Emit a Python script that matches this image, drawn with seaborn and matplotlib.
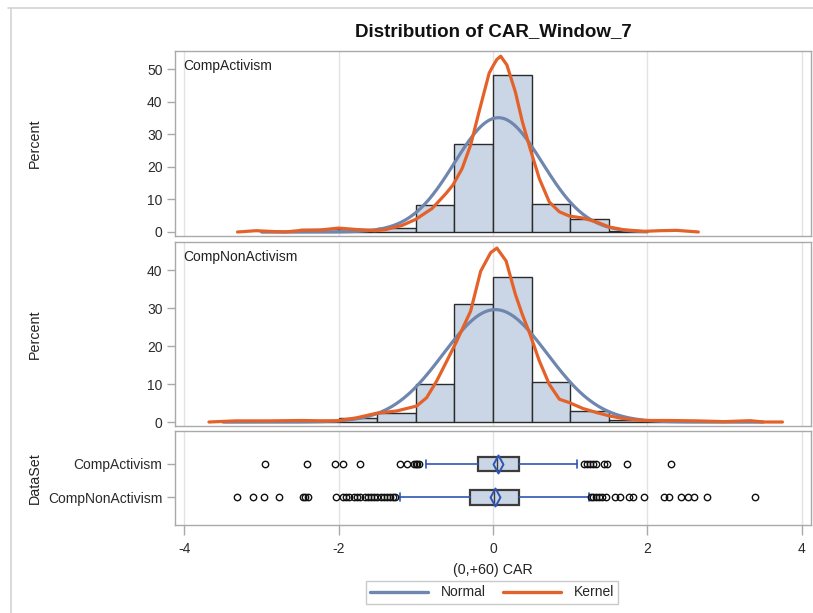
import numpy as np
import pandas as pd
import matplotlib
matplotlib.use("Agg")
import matplotlib.pyplot as plt
from matplotlib.lines import Line2D
from matplotlib.path import Path
import seaborn as sns

# ---------------- data ----------------
GROUPS = ["CompActivism", "CompNonActivism"]

# histogram bins (edges) and bar heights in percent
ACT_EDGES = [-3.0, -2.5, -2.0, -1.5, -1.0, -0.5, 0.0, 0.5, 1.0, 1.5, 2.0]
ACT_PCT = [0.2, 1.0, 0.8, 1.2, 8.2, 27.0, 48.3, 8.5, 4.0, 0.3]

NON_EDGES = [-3.5, -3.0, -2.5, -2.0, -1.5, -1.0, -0.5, 0.0, 0.5, 1.0, 1.5, 2.0, 2.5, 3.0, 3.5]
NON_PCT = [0.1, 0.2, 0.4, 1.1, 2.5, 10.0, 31.0, 38.1, 10.6, 2.9, 0.6, 0.2, 0.2, 0.1]

# fitted normal parameters (mean, std)
ACT_NORMAL = (0.07, 0.568)
NON_NORMAL = (0.03, 0.674)

# kernel density curves (percent scale)
ACT_KDE_X = [-3.31, -3.07, -2.90, -2.70, -2.48, -2.25, -2.00, -1.79, -1.53, -1.40, -1.18,
             -1.00, -0.79, -0.61, -0.52, -0.40, -0.29, -0.18, -0.05, 0.00, 0.05, 0.10,
             0.18, 0.29, 0.38, 0.48, 0.60, 0.73, 0.86, 0.99, 1.16, 1.34, 1.51, 1.69,
             1.95, 2.16, 2.38, 2.55, 2.66]
ACT_KDE_Y = [0.0, 0.4, 0.2, 0.0, 0.5, 0.6, 1.2, 0.8, 0.4, 0.7, 2.0,
             3.9, 7.2, 11.8, 14.4, 19.5, 26.7, 37.0, 48.8, 51.0, 53.0, 54.0,
             51.3, 43.0, 33.9, 25.7, 16.4, 9.2, 6.2, 4.9, 4.3, 3.1, 1.5, 0.7,
             0.2, 0.4, 0.5, 0.2, 0.0]

NON_KDE_X = [-3.68, -3.33, -2.90, -2.46, -2.25, -2.03, -1.77, -1.51, -1.25, -0.99, -0.86,
             -0.73, -0.60, -0.47, -0.29, -0.16, -0.03, 0.05, 0.17, 0.29, 0.38, 0.48,
             0.60, 0.73, 0.86, 0.99, 1.16, 1.34, 1.51, 1.69, 1.95, 2.29, 2.64, 2.99,
             3.33, 3.51, 3.75]
NON_KDE_Y = [0.0, 0.3, 0.3, 0.4, 0.3, 0.3, 1.1, 2.3, 2.9, 4.2, 6.4,
             10.8, 16.0, 21.3, 29.2, 39.7, 44.6, 45.8, 42.4, 33.6, 28.3, 23.1,
             16.1, 9.9, 6.0, 5.1, 3.6, 2.5, 1.6, 0.9, 0.4, 0.4, 0.3, 0.1,
             0.35, 0.0, 0.0]

# box plot summaries
ACT_BOX = dict(q1=-0.19, med=0.05, q3=0.34, whislo=-0.87, whishi=1.09, mean=0.07)
NON_BOX = dict(q1=-0.30, med=0.01, q3=0.34, whislo=-1.20, whishi=1.24, mean=0.02)
ACT_OUTLIERS = [-2.95, -2.41, -2.05, -1.94, -1.72, -1.20, -1.12, -1.03, -1.00, -0.98, -0.96,
                1.18, 1.22, 1.26, 1.30, 1.34, 1.44, 1.48, 1.73, 2.30]
NON_OUTLIERS = [-3.32, -3.11, -2.97, -2.77, -2.46, -2.43, -2.40, -2.03, -1.94, -1.90, -1.86,
                -1.80, -1.76, -1.72, -1.66, -1.62, -1.58, -1.54, -1.50, -1.45, -1.41, -1.37,
                -1.33, -1.30, -1.27,
                1.27, 1.30, 1.33, 1.37, 1.41, 1.46, 1.58, 1.64, 1.76, 1.81, 1.95, 2.22,
                2.28, 2.43, 2.52, 2.61, 2.77, 3.39]

X_TICKS = [-4, -2, 0, 2, 4]

# ---------------- style ----------------
sns.set_theme(style="white")
plt.rcParams["font.family"] = ["Liberation Sans", "DejaVu Sans"]

FILL = "#CAD5E5"
EDGE = "#2B2B2B"
NORMAL_C = "#6F86AE"
KERNEL_C = "#E4622A"
BOX_BLUE = "#2F55B5"
FRAME = "#A9A9A9"
GRID = "#E3E3E3"
XLIM = (-4.12, 4.12)

fig = plt.figure(figsize=(8.13, 6.13), dpi=100)
W, H = 813.0, 613.0


def axes_px(x0, y0, x1, y1):
    return fig.add_axes([x0 / W, 1 - y1 / H, (x1 - x0) / W, (y1 - y0) / H])


ax_top = axes_px(175, 51, 811, 236)
ax_mid = axes_px(175, 242, 811, 426)
ax_box = axes_px(175, 431, 811, 525)


def style_axis(ax):
    for sp in ax.spines.values():
        sp.set_color(FRAME)
        sp.set_linewidth(1.0)
    ax.set_xlim(*XLIM)
    ax.set_xticks(X_TICKS)
    ax.grid(axis="x", color=GRID, linewidth=1.0)
    ax.grid(axis="y", visible=False)
    ax.set_axisbelow(True)
    ax.tick_params(axis="both", labelcolor="#2A2A2A", labelsize=10, length=6,
                   width=1.0, direction="out", color=FRAME, pad=3)
    ax.tick_params(axis="y", left=True)
    ax.set_xlabel("")
    ax.set_ylabel("")


def draw_hist(ax, edges, pct, normal, kx, ky, name, ylim, yticks):
    edges = np.asarray(edges, dtype=float)
    centers = (edges[:-1] + edges[1:]) / 2
    bars = pd.DataFrame({"x": centers, "pct": pct})
    sns.histplot(data=bars, x="x", weights="pct", bins=list(edges), ax=ax, color=FILL,
                 edgecolor=EDGE, linewidth=1.0, alpha=1.0, zorder=2)
    mu, sd = normal
    width = edges[1] - edges[0]
    xs = np.linspace(edges[0], edges[-1], 300)
    ys = 100 * width * np.exp(-0.5 * ((xs - mu) / sd) ** 2) / (sd * np.sqrt(2 * np.pi))
    sns.lineplot(x=xs, y=ys, ax=ax, color=NORMAL_C, linewidth=2.3, zorder=3)
    sns.lineplot(x=kx, y=ky, ax=ax, color=KERNEL_C, linewidth=2.3, zorder=4)
    style_axis(ax)
    ax.set_ylim(*ylim)
    ax.set_yticks(yticks)
    ax.tick_params(axis="x", bottom=False, labelbottom=False)
    ax.text(0.0126, 0.955, name, transform=ax.transAxes, ha="left", va="top",
            fontsize=10, color="#222222")


draw_hist(ax_top, ACT_EDGES, ACT_PCT, ACT_NORMAL, ACT_KDE_X, ACT_KDE_Y,
          GROUPS[0], (-1.23, 55.6), [0, 10, 20, 30, 40, 50])
draw_hist(ax_mid, NON_EDGES, NON_PCT, NON_NORMAL, NON_KDE_X, NON_KDE_Y,
          GROUPS[1], (-1.05, 47.4), [0, 10, 20, 30, 40])

# ---- box plots ----
stats = []
for name, box, out in [(GROUPS[0], ACT_BOX, ACT_OUTLIERS), (GROUPS[1], NON_BOX, NON_OUTLIERS)]:
    s = dict(box)
    s["label"] = name
    s["fliers"] = np.asarray(out)
    stats.append(s)

ax_box.bxp(stats, positions=[0, 1], widths=0.44, orientation="horizontal",
           patch_artist=True, manage_ticks=False, showfliers=True,
           boxprops=dict(facecolor=FILL, edgecolor="#3C3C3C", linewidth=1.6),
           medianprops=dict(color="#3C3C3C", linewidth=1.0),
           whiskerprops=dict(color=BOX_BLUE, linewidth=1.2),
           capprops=dict(color=BOX_BLUE, linewidth=1.2),
           flierprops=dict(marker="o", markerfacecolor="none", markeredgecolor="#111111",
                           markersize=4.6, markeredgewidth=1.0),
           capwidths=0.24, zorder=3)

diamond = Path([(0, 1), (0.55, 0), (0, -1), (-0.55, 0), (0, 1)],
               [Path.MOVETO, Path.LINETO, Path.LINETO, Path.LINETO, Path.CLOSEPOLY])
ax_box.plot([ACT_BOX["mean"], NON_BOX["mean"]], [0, 1], linestyle="none",
            marker=diamond, markersize=13, markerfacecolor="none",
            markeredgecolor=BOX_BLUE, markeredgewidth=1.4, zorder=5)

style_axis(ax_box)
ax_box.set_ylim(1.83, -0.99)
ax_box.set_yticks([0, 1])
ax_box.set_yticklabels(GROUPS)
ax_box.set_xticks(X_TICKS)
ax_box.set_xticklabels([str(t) for t in X_TICKS])
ax_box.tick_params(axis="x", bottom=True, length=7, pad=5)

# ---- titles and axis labels ----
fig.text(493 / W, 1 - 32 / H, "Distribution of CAR_Window_7", ha="center", va="center",
         fontsize=13.5, fontweight="bold", color="#111111")
fig.text(35 / W, 1 - 143 / H, "Percent", rotation=90, ha="center", va="center",
         fontsize=10.3, color="#222222")
fig.text(35 / W, 1 - 334 / H, "Percent", rotation=90, ha="center", va="center",
         fontsize=10.3, color="#222222")
fig.text(35 / W, 1 - 478 / H, "DataSet", rotation=90, ha="center", va="center",
         fontsize=10.3, color="#222222")
fig.text(493 / W, 1 - 570 / H, "(0,+60) CAR", ha="center", va="center",
         fontsize=10.3, color="#222222")

handles = [Line2D([], [], color=NORMAL_C, linewidth=2.4),
           Line2D([], [], color=KERNEL_C, linewidth=2.4)]
leg = fig.legend(handles, ["Normal", "Kernel"], loc="center",
                 bbox_to_anchor=(492 / W, 1 - 592.5 / H), ncol=2, frameon=True,
                 fancybox=False, edgecolor="#BDBDBD", fontsize=10, handlelength=4.2,
                 columnspacing=1.2, borderpad=0.3, handletextpad=0.9)
leg.get_frame().set_linewidth(1.0)

# outer page frame
fig.add_artist(Line2D([8 / W, 1.0], [1 - 8 / H, 1 - 8 / H],
                      transform=fig.transFigure, color="#D3D3D3", linewidth=1.2))
fig.add_artist(Line2D([11 / W, 11 / W], [0.0, 1 - 8 / H],
                      transform=fig.transFigure, color="#D3D3D3", linewidth=1.2))

fig.savefig("out.png", dpi=100, facecolor="white")
